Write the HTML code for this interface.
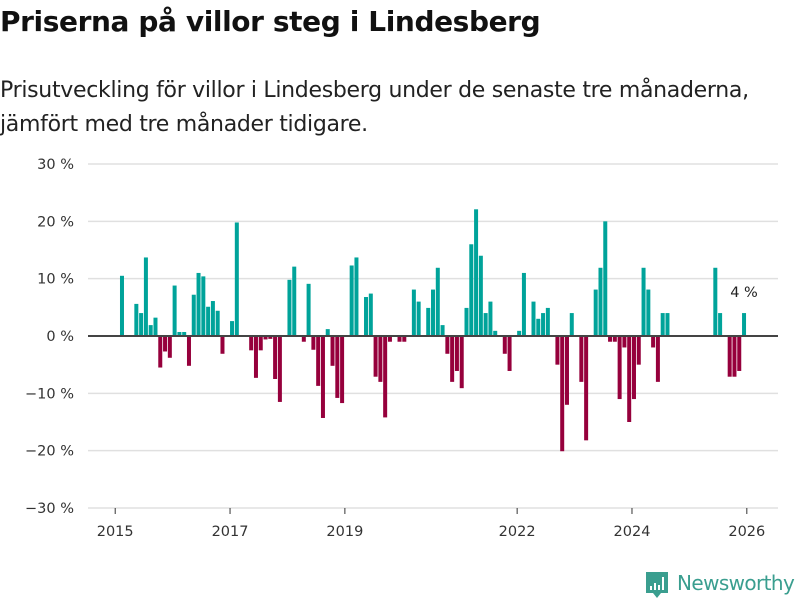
<!DOCTYPE html>
<html><head><meta charset="utf-8"><style>
body{margin:0;background:#fff;font-family:"DejaVu Sans","Liberation Sans",sans-serif;}
#wrap{position:relative;width:800px;height:600px;overflow:hidden;}
h1{position:absolute;left:0;top:5px;margin:0;font-size:28px;font-weight:bold;color:#111;letter-spacing:-0.4px;}
.sub{position:absolute;left:0;top:74px;margin:0;font-size:22px;line-height:34px;color:#222;letter-spacing:-0.3px;white-space:nowrap;}
</style></head><body>
<div id="wrap">
<h1>Priserna på villor steg i Lindesberg</h1>
<p class="sub">Prisutveckling för villor i Lindesberg under de senaste tre månaderna,<br>jämfört med tre månader tidigare.</p>
<svg id="chart" width="800" height="600" style="position:absolute;left:0;top:0"></svg>
</div>
<script>
const months=[1,4,5,6,7,8,9,10,11,12,13,14,15,16,17,18,19,20,21,22,24,25,28,29,30,31,32,33,34,36,37,39,40,41,42,43,44,45,46,47,49,50,52,53,54,55,56,57,59,60,62,63,65,66,67,68,69,70,71,72,73,74,75,76,77,78,79,81,82,84,85,87,88,89,90,92,93,94,95,97,98,100,101,102,103,104,105,106,107,108,109,110,111,112,113,114,115,125,126,128,129,130,131];
const values=[10.5,5.6,4.0,13.7,1.9,3.2,-5.5,-2.7,-3.8,8.8,0.7,0.7,-5.2,7.2,11.0,10.4,5.1,6.1,4.4,-3.1,2.6,19.8,-2.5,-7.3,-2.5,-0.6,-0.5,-7.5,-11.5,9.8,12.1,-1.0,9.1,-2.4,-8.7,-14.3,1.2,-5.2,-10.8,-11.7,12.3,13.7,6.8,7.4,-7.1,-8.0,-14.2,-1.0,-1.0,-1.0,8.1,6.0,4.9,8.1,11.9,1.9,-3.1,-8.0,-6.1,-9.1,4.9,16.0,22.1,14.0,4.0,6.0,0.9,-3.1,-6.1,0.9,11.0,6.0,3.0,4.0,4.9,-5.0,-20.1,-12.0,4.0,-8.0,-18.2,8.1,11.9,20.0,-1.0,-1.0,-11.0,-2.0,-15.0,-11.0,-5.0,11.9,8.1,-2.0,-8.0,4.0,4.0,11.9,4.0,-7.1,-7.1,-6.1,4.0];
const yTicks=[30,20,10,0,-10,-20,-30];
const yTickLabels=["30 %","20 %","10 %","0 %","−10 %","−20 %","−30 %"];
const xTickYears=[2015,2017,2019,2022,2024,2026];
const lastLabel="4 %";

const NS="http://www.w3.org/2000/svg";
const svg=document.getElementById('chart');
const y=v=>336-v*5.733;
const x=m=>115.2+4.785*m;
const F='DejaVu Sans, Liberation Sans, sans-serif';
function mk(t,a){const e=document.createElementNS(NS,t);for(const k in a)e.setAttribute(k,a[k]);svg.appendChild(e);return e;}
yTicks.forEach((t,i)=>{
  if(t!==0){const g=mk('line',{x1:88,x2:778,y1:y(t),y2:y(t),stroke:'#e0e0e0','stroke-width':1.5});
  
  }
  const l=mk('text',{x:74,y:y(t)+5,'text-anchor':'end','font-size':14.5,fill:'#333','font-family':F});
  l.textContent=yTickLabels[i];
  
  
});
xTickYears.forEach(yr=>{
  const px=x((yr-2015)*12);
  const tk=mk('line',{x1:px,x2:px,y1:508,y2:514,stroke:'#333','stroke-width':1});
  
  
  const l=mk('text',{x:px,y:536,'text-anchor':'middle','font-size':14.5,fill:'#333','font-family':F});
  l.textContent=yr;
  
  
});
months.forEach((m,i)=>{
  const v=values[i];
  const r=mk('rect',{x:x(m),width:4,y:Math.min(y(v),y(0)),height:Math.abs(y(v)-y(0)),fill:v>=0?'#00a39a':'#96003c'});
  
  
});
const z=mk('line',{x1:88,x2:778,y1:y(0),y2:y(0),stroke:'#444','stroke-width':2});


const li=months.length-1;
const lt=mk('text',{x:x(months[li])+2,y:y(values[li])-16,'text-anchor':'middle','font-size':14.5,fill:'#222','font-family':F});
lt.textContent=lastLabel;


const lg=mk('g',{});


lg.innerHTML='<path d="M646 572 h22 v21 h-7 l-4 5 l-4 -5 h-7 z" fill="#3a9e8f"/><rect x="650" y="586" width="2" height="4" fill="#fff"/><rect x="654" y="583" width="2" height="7" fill="#fff"/><rect x="658" y="585" width="2" height="5" fill="#fff"/><rect x="662" y="577" width="2" height="13" fill="#fff"/><text x="677" y="590" font-size="20" fill="#3a9e8f" font-family="DejaVu Sans, sans-serif" letter-spacing="-0.6">Newsworthy</text>';
svg.appendChild(lg);
</script>
</body></html>
